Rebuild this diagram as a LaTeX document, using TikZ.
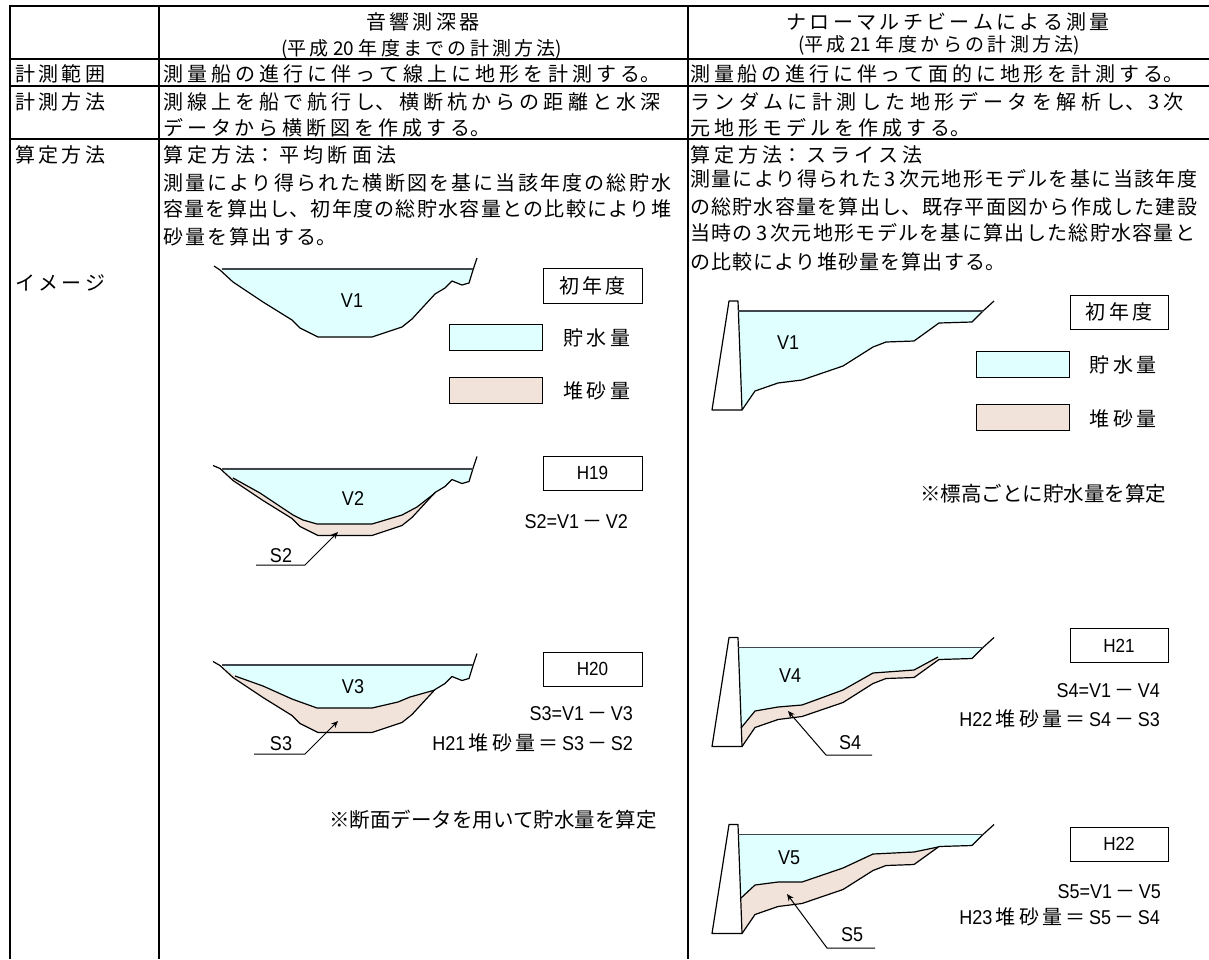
\documentclass[tikz,border=0pt]{standalone}
\usepackage{fontspec}
\usetikzlibrary{arrows.meta}
\setmainfont{Noto Sans CJK JP}
\newfontfamily\latn[FakeStretch=0.9]{Liberation Sans}
\XeTeXlinebreaklocale "ja"
\XeTeXlinebreakskip=0pt plus 40pt
\definecolor{water}{HTML}{E0FFFF}
\definecolor{sand}{HTML}{F1E2DA}
\tikzset{
 grid/.style={line width=2pt,black},
 wat/.style={fill=water,draw=none},
 sed/.style={fill=sand,draw=none},
 terr/.style={line width=1.2pt,black,line join=round},
 surf/.style={line width=1.2pt,black!80!cyan},
 lab/.style={inner sep=0pt,font=\fontsize{20}{24}\selectfont},
 yearbox/.style={draw,line width=1pt,fill=white,inner sep=0pt},
 ptr/.style={line width=1pt,-{Stealth[length=7pt,width=6pt]}},
 ldr/.style={line width=1pt},
}
\newcommand{\tlf}[6]{\node[anchor=west,inner sep=0pt] (#1) at (#2,#3) {\parbox{#4pt}{\fontsize{#5}{24}\selectfont\tolerance=10000\hbadness=10000\hfuzz=50pt\parfillskip=0pt\parindent=0pt\leavevmode #6}};}
\newcommand{\tl}[5]{\tlf{#1}{#2}{#3}{#4}{20}{#5}}
\def\basinL{(220,270) -- (233,282) -- (263,302) -- (292,320) -- (300,328) -- (318,337) -- (372,337) -- (402,327) -- (412,319) -- (435,294)}
\def\basinR{(435,294) -- (445,288) -- (452,281) -- (462,285) -- (469,283) -- (473,270) -- (477,258)}
\def\basinFill{(222,269) -- (233,282) -- (263,302) -- (292,320) -- (300,328) -- (318,337) -- (372,337) -- (402,327) -- (412,319) -- (435,294) -- (445,288) -- (452,281) -- (462,285) -- (469,283) -- (472.5,269) -- cycle}
\def\damFill{(738,311) -- (742,410) -- (755,391) -- (778,383) -- (802,380) -- (843,366) -- (873,347) -- (886,342) -- (914,341) -- (939,323) -- (972,322) -- (983,311) -- cycle}
\def\damTerr{(742,410) -- (755,391) -- (778,383) -- (802,380) -- (843,366) -- (873,347) -- (886,342) -- (914,341) -- (939,323) -- (972,322) -- (983,311) -- (994,301)}
\def\damBody{(712,410) -- (729,301) -- (738,301) -- (742,410) -- cycle}
\begin{document}
\begin{tikzpicture}[x=1pt,y=-1pt]
\useasboundingbox (0,0) rectangle (1209,959);
% table
\draw[grid] (9.5,6) -- (1209,6);
\draw[grid] (9.5,59) -- (1209,59);
\draw[grid] (9.5,86) -- (1209,86);
\draw[grid] (9.5,139) -- (1209,139);
\draw[grid] (9.5,5) -- (9.5,959);
\draw[grid] (159,6) -- (159,959);
\draw[grid] (688,6) -- (688,959);
% headers
\node[lab,font=\fontsize{20}{24}\selectfont] (h1) at (423,22) {音\,響\,測\,深\,器};
\tlf{h1b}{281}{49}{281}{19}{(平成 20 年度までの計測方法)}
\node[lab,font=\fontsize{20}{24}\selectfont] (h2) at (948,22) {ナ\,ロ\,ー\,マ\,ル\,チ\,ビ\,ー\,ム\,に\,よ\,る\,測\,量};
\tlf{h2b}{798}{45}{282}{19}{(平成 21 年度からの計測方法)}
% row labels
\tl{r1}{15}{74}{90}{計測範囲}
\tl{r2}{15}{102}{90}{計測方法}
\tl{r3}{15}{155}{90}{算定方法}
\node[lab,anchor=west] (r4) at (15,283) {イ\,メ\,ー\,ジ};
% left column
\tl{a1}{163}{74}{497}{測量船の進行に伴って線上に地形を計測する。}
\tl{a2}{163}{102}{497}{測線上を船で航行し、横断杭からの距離と水深}
\tl{a3}{163}{128}{327}{データから横断図を作成する。}
\tl{a4}{163}{155}{233}{算定方法：平均断面法}
\tl{a5}{163}{183}{508}{測量により得られた横断図を基に当該年度の総貯水}
\tl{a6}{163}{209}{508}{容量を算出し、初年度の総貯水容量との比較により堆}
\tl{a7}{163}{237}{173}{砂量を算出する。}
% right column
\tl{b1}{690}{74}{493}{測量船の進行に伴って面的に地形を計測する。}
\tl{b2}{690}{102}{493}{ランダムに計測した地形データを解析し、\,3\,次}
\tl{b3}{690}{128}{280}{元地形モデルを作成する。}
\tl{b4}{690}{155}{232}{算定方法：スライス法}
\tl{b5}{690}{179}{507}{測量により得られた\,3\,次元地形モデルを基に当該年度}
\tl{b6}{690}{207}{507}{の総貯水容量を算出し、既存平面図から作成した建設}
\tl{b7}{690}{233}{505}{当時の\,3\,次元地形モデルを基に算出した総貯水容量と}
\tl{b8}{690}{262}{315}{の比較により堆砂量を算出する。}
% basin 1
\fill[wat] \basinFill;
\draw[terr] (214,266) -- \basinL;
\draw[terr] \basinR;
\draw[surf] (222,269) -- (473,269);
\node[lab] (v1) at (352,301) {\latn V1};
% basin 2
\begin{scope}[shift={(0,198.5)}]
\fill[sed] \basinFill;
\end{scope}
\fill[wat] (222,469) -- (233,478) -- (260,493) -- (293,515) -- (303,520) -- (317,524) -- (372,524) -- (402,515) -- (417,507) -- (435,493) -- (445,486.5) -- (452,479.5) -- (462,483.5) -- (469,481.5) -- (472.5,469) -- cycle;
\begin{scope}[shift={(0,198.5)}]
\draw[terr] (213,267) -- \basinL;
\draw[terr] \basinR;
\end{scope}
\draw[terr] (233,478) -- (260,493) -- (293,515) -- (303,520) -- (317,524) -- (372,524) -- (402,515) -- (417,507) -- (435,493);
\draw[surf] (222,469) -- (473,469);
\node[lab] (v2) at (353,499) {\latn V2};
\coordinate (s2tip) at (338,532); \coordinate (s2tail) at (305,565); \coordinate (s2end) at (256,565);
\draw[ptr] (s2end) -- (s2tail) -- (s2tip);
\node[lab] (s2) at (281,556) {\latn S2};
% basin 3
\begin{scope}[shift={(0,395.5)}]
\fill[sed] \basinFill;
\end{scope}
\fill[wat] (222,665) -- (235,676) -- (263,686) -- (292,699) -- (317,708) -- (372,708) -- (398,702) -- (410,697) -- (435,690) -- (445,683.5) -- (452,676.5) -- (462,680.5) -- (469,678.5) -- (472.5,665) -- cycle;
\begin{scope}[shift={(0,395.5)}]
\draw[terr] (213,266) -- \basinL;
\draw[terr] \basinR;
\end{scope}
\draw[terr] (235,676) -- (263,686) -- (292,699) -- (317,708) -- (372,708) -- (398,702) -- (410,697) -- (435,690);
\draw[surf] (222,665) -- (473,665);
\node[lab] (v3) at (353,687) {\latn V3};
\coordinate (s3tip) at (338,721); \coordinate (s3tail) at (305,754); \coordinate (s3end) at (254,754);
\draw[ptr] (s3end) -- (s3tail) -- (s3tip);
\node[lab] (s3) at (281,744) {\latn S3};
% left legend
\node[yearbox,minimum width=99pt,minimum height=35pt] (y1) at (592.5,285.5) {\fontsize{20}{24}\selectfont 初\,年\,度};
\draw[line width=1pt,fill=water] (449,324) rectangle (542,350);
\node[lab] (l1) at (597,338) {貯\,水\,量};
\draw[line width=1pt,fill=sand] (449,377) rectangle (542,403);
\node[lab] (l2) at (597,391) {堆\,砂\,量};
\node[yearbox,minimum width=99pt,minimum height=34pt] (y2) at (592.5,473) {\latn\fontsize{19}{24}\selectfont H19};
\node[lab,anchor=east] (f1) at (628,522) {\latn S2=V1\,{\rmfamily －}\,V2};
\node[yearbox,minimum width=99pt,minimum height=34pt] (y3) at (592.5,669) {\latn\fontsize{19}{24}\selectfont H20};
\node[lab,anchor=east] (f2) at (633,714) {\latn S3=V1\,{\rmfamily －}\,V3};
\node[lab,anchor=east] (f3) at (633,743) {\latn H21\,{\rmfamily 堆\,砂\,量\,＝}\,S3\,{\rmfamily －}\,S2};
\node[lab,font=\fontsize{20.5}{24}\selectfont] (n1) at (493,820) {※断面データを用いて貯水量を算定};
% dam 1
\fill[wat] \damFill;
\draw[terr] \damTerr;
\draw[terr,fill=white] \damBody;
\draw[surf] (738,311) -- (983,311);
\node[lab] (w1) at (788,343) {\latn V1};
% dam 2
\begin{scope}[shift={(0,336.5)}]
\fill[sed] \damFill;
\end{scope}
\fill[wat] (738,647.5) -- (741,728) -- (755,711) -- (778,707) -- (802,705) -- (843,690) -- (873,673) -- (914,670) -- (938,657) -- (939,659.5) -- (972,658.5) -- (983,647.5) -- cycle;
\begin{scope}[shift={(0,336.5)}]
\draw[terr] \damTerr;
\draw[terr,fill=white] \damBody;
\end{scope}
\draw[terr] (741,728) -- (755,711) -- (778,707) -- (802,705) -- (843,690) -- (873,673) -- (914,670) -- (938,657);
\draw[surf] (738,647.5) -- (983,647.5);
\node[lab] (w4) at (790,676) {\latn V4};
\coordinate (s4tip) at (788,711); \coordinate (s4tail) at (826,755); \coordinate (s4end) at (872,755);
\draw[ptr] (s4end) -- (s4tail) -- (s4tip);
\node[lab] (s4) at (850,743) {\latn S4};
% dam 3
\begin{scope}[shift={(0,523.5)}]
\fill[sed] \damFill;
\end{scope}
\fill[wat] (738,834.5) -- (741,898) -- (755,885) -- (778,882) -- (802,882) -- (843,868) -- (873,854) -- (914,852) -- (938,847) -- (972,845.5) -- (983,834.5) -- cycle;
\begin{scope}[shift={(0,523.5)}]
\draw[terr] \damTerr;
\draw[terr,fill=white] \damBody;
\end{scope}
\draw[terr] (741,898) -- (755,885) -- (778,882) -- (802,882) -- (843,868) -- (873,854) -- (914,852) -- (938,847);
\draw[surf] (738,834.5) -- (983,834.5);
\node[lab] (w5) at (789,858) {\latn V5};
\coordinate (s5tip) at (787,894); \coordinate (s5tail) at (827,948); \coordinate (s5end) at (875,948);
\draw[ptr] (s5end) -- (s5tail) -- (s5tip);
\node[lab] (s5) at (852,935) {\latn S5};
% right legend
\node[yearbox,minimum width=98pt,minimum height=34pt] (y4) at (1119,312) {\fontsize{20}{24}\selectfont 初\,年\,度};
\draw[line width=1pt,fill=water] (976,351) rectangle (1069,377);
\node[lab] (m1) at (1123,365) {貯\,水\,量};
\draw[line width=1pt,fill=sand] (976,404) rectangle (1069,430);
\node[lab] (m2) at (1123,419) {堆\,砂\,量};
\node[lab,font=\fontsize{20.5}{24}\selectfont] (n2) at (1043,494) {※標高ごとに貯水量を算定};
\node[yearbox,minimum width=98pt,minimum height=34pt] (y5) at (1119,645.5) {\latn\fontsize{19}{24}\selectfont H21};
\node[lab,anchor=east] (g1) at (1160,691) {\latn S4=V1\,{\rmfamily －}\,V4};
\node[lab,anchor=east] (g2) at (1160,719) {\latn H22\,{\rmfamily 堆\,砂\,量\,＝}\,S4\,{\rmfamily －}\,S3};
\node[yearbox,minimum width=98pt,minimum height=34pt] (y6) at (1119,844) {\latn\fontsize{19}{24}\selectfont H22};
\node[lab,anchor=east] (g3) at (1161,892) {\latn S5=V1\,{\rmfamily －}\,V5};
\node[lab,anchor=east] (g4) at (1160,917) {\latn H23\,{\rmfamily 堆\,砂\,量\,＝}\,S5\,{\rmfamily －}\,S4};
\end{tikzpicture}
\end{document}
